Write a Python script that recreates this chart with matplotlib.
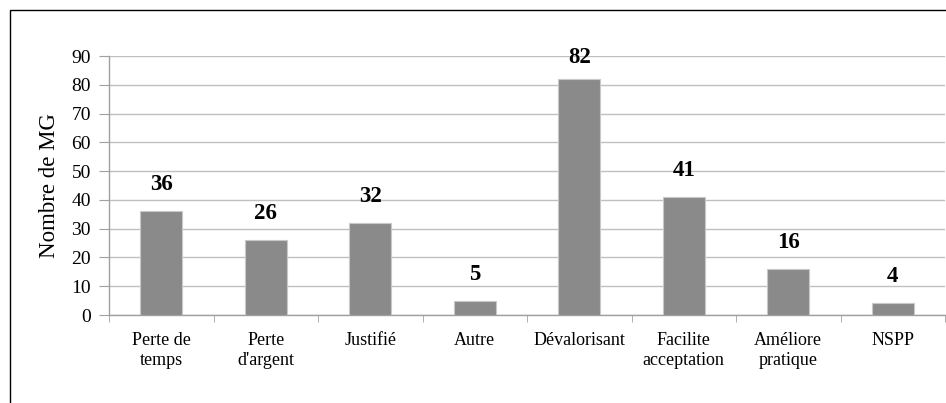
import matplotlib
matplotlib.use("Agg")
import matplotlib.pyplot as plt
from matplotlib.patches import Rectangle

categories = ["Perte de\ntemps", "Perte\nd'argent", "Justifié", "Autre",
              "Dévalorisant", "Facilite\nacceptation", "Améliore\npratique", "NSPP"]
values = [36, 26, 32, 5, 82, 41, 16, 4]
yticks = [0, 10, 20, 30, 40, 50, 60, 70, 80, 90]
ylabel = "Nombre de MG"

plt.rcParams['font.family'] = ['Liberation Serif', 'DejaVu Serif']

W, H, DPI = 946, 403, 100
fig = plt.figure(figsize=(W / DPI, H / DPI), dpi=DPI)

# outer border (extends past the right and bottom edges)
fig.add_artist(Rectangle((10 / W, -0.2), 1.2, 1 - 10 / H + 0.2,
                         transform=fig.transFigure, fill=False,
                         edgecolor='black', linewidth=1.0))

ax = fig.add_axes([109 / W, 1 - 315 / H, (945 - 109) / W, (315 - 56) / H])

x = list(range(len(categories)))
ax.bar(x, values, width=0.40, color='#8a8a8a', edgecolor='#c8c8c8',
       linewidth=0.8, zorder=3)

ax.set_xlim(-0.5, len(categories) - 0.5)
ax.set_ylim(0, 90)
ax.set_yticks(yticks)
ax.set_yticklabels([str(t) for t in yticks], fontsize=14)
ax.yaxis.grid(True, color='#c0c0c0', linewidth=1.0, zorder=0)
ax.set_axisbelow(True)

ax.set_xticks(x)
ax.set_xticklabels(categories, fontsize=13, linespacing=1.28)
ax.tick_params(axis='x', length=0, pad=12)
ax.tick_params(axis='y', length=7, color='#a0a0a0', pad=6)
# category boundary ticks
ax.set_xticks([i - 0.5 for i in range(len(categories) + 1)], minor=True)
ax.tick_params(axis='x', which='minor', length=5, color='#a0a0a0')

for s in ['top', 'right']:
    ax.spines[s].set_visible(False)
for s in ['left', 'bottom']:
    ax.spines[s].set_color('#a0a0a0')
    ax.spines[s].set_linewidth(1.0)

ax.set_ylabel(ylabel, fontsize=16.5, labelpad=8)

# value labels: 16 px above bar, kept inside the plot area like Excel
axes_top_px = 56
px_per_unit = (315 - 56) / 90
for xi, v in zip(x, values):
    bar_top_px = 315 - v * px_per_unit
    off = min(16, bar_top_px - axes_top_px - 12)
    ax.annotate(str(v), (xi, v), xytext=(0, off * 72 / DPI),
                textcoords='offset points', ha='center', va='bottom',
                fontsize=16.5, fontweight='bold', clip_on=False)

fig.savefig("out.png", dpi=DPI)
